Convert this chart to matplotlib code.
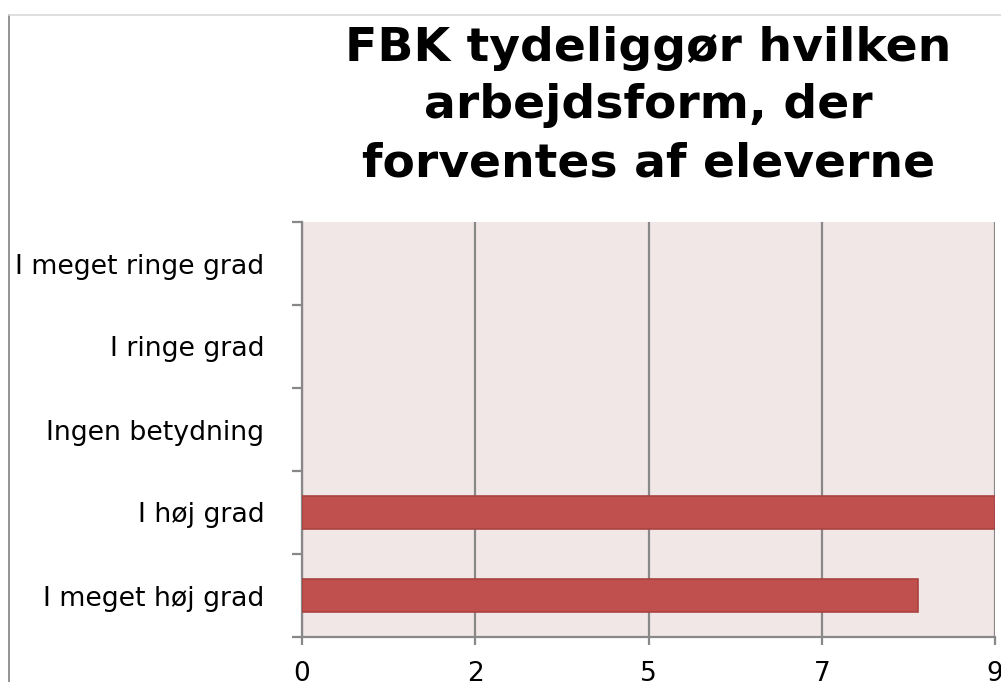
import matplotlib.pyplot as plt
from matplotlib.lines import Line2D

# data (bottom-up order, as drawn)
categories = ['I meget høj grad', 'I høj grad', 'Ingen betydning', 'I ringe grad', 'I meget ringe grad']
values = [8, 9, 0, 0, 0]
x_ticks = [0, 2.25, 4.5, 6.75, 9]
x_tick_labels = ['0', '2', '5', '7', '9']
title = 'FBK tydeliggør hvilken\narbejdsform, der\nforventes af eleverne'

plt.rcParams['font.family'] = ['DejaVu Sans']

fig = plt.figure(figsize=(10.01, 6.82), dpi=100)
W, H = 1001, 682
# plot area in pixels: x 302-995, y 222-637
ax = fig.add_axes([302 / W, 1 - 637 / H, (995 - 302) / W, (637 - 222) / H])
ax.set_facecolor('#F2E7E7')

ypos = list(range(len(categories)))
edges = ['none' if v == 0 else '#A94340' for v in values]
ax.barh(ypos, values, height=0.4, color='#C0504D', edgecolor=edges, linewidth=1.2, zorder=3)

ax.set_xlim(0, 9)
ax.set_ylim(-0.5, len(categories) - 0.5)
ax.set_xticks(x_ticks)
ax.set_xticklabels(x_tick_labels, fontsize=19)
ax.set_yticks(ypos)
ax.set_yticklabels(categories, fontsize=19.3)
ax.set_yticks([i - 0.5 for i in range(len(categories) + 1)], minor=True)

ax.grid(axis='x', color='#888888', linewidth=1.6, zorder=1)
ax.tick_params(axis='y', which='major', length=0, pad=27)
ax.tick_params(axis='y', which='minor', length=7, width=1.6, color='#888888')
ax.tick_params(axis='x', length=6, width=1.6, color='#888888', pad=11)

for side in ['top', 'right']:
    ax.spines[side].set_visible(False)
for side in ['left', 'bottom']:
    ax.spines[side].set_color('#888888')
    ax.spines[side].set_linewidth(1.6)

fig.text(648.5 / W, 1 - 106 / H, title, ha='center', va='center',
         fontsize=34, fontweight='bold', linespacing=1.36)

# chart area frame
fig.add_artist(Line2D([9 / W, 9 / W], [0, 1 - 15 / H], color='#808080', linewidth=1.2))
fig.add_artist(Line2D([9 / W, 1], [1 - 15 / H, 1 - 15 / H], color='#D9D9D9', linewidth=1.2))

fig.savefig('out.png', dpi=100)
